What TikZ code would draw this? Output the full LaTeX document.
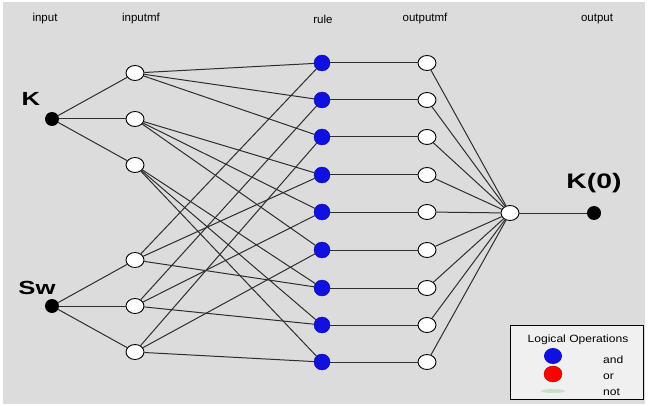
\documentclass[tikz,border=0pt]{standalone}
\usepackage{fontspec}
\setmainfont{Liberation Sans}
\usetikzlibrary{shapes.geometric}
\definecolor{bg}{HTML}{DCDCDC}
\definecolor{edgec}{HTML}{2E2E2E}
\definecolor{ruleblue}{HTML}{1010E0}
\begin{document}
\begin{tikzpicture}[x=1pt,y=-1pt,
  mfnode/.style={ellipse,draw=black,fill=white,line width=0.9pt,minimum width=18pt,minimum height=15pt,inner sep=0pt},
  rulenode/.style={circle,fill=ruleblue,draw=ruleblue!70!black,line width=0.4pt,minimum size=16pt,inner sep=0pt},
  innode/.style={circle,fill=black,minimum size=14pt,inner sep=0pt},
  conn/.style={draw=edgec,line width=1pt},
  toplabel/.style={font=\fontsize{11.5}{13}\selectfont},
  biglabel/.style={font=\fontsize{19}{21}\selectfont\bfseries,xscale=1.35},
  legtext/.style={font=\fontsize{10.5}{12}\selectfont,xscale=1.15}]
\useasboundingbox (0,0) rectangle (650,406);
\fill[white] (0,0) rectangle (650,406);
\fill[bg] (3,2) rectangle (645,404);

% column labels
\node[toplabel] (lin) at (45,19) {input};
\node[toplabel] (lmf) at (141,19) {inputmf};
\node[toplabel] (lrule) at (323,19) {rule};
\node[toplabel] (lomf) at (425,19) {outputmf};
\node[toplabel] (lout) at (597,19) {output};

% inputs
\node[innode] (K) at (52,119) {};
\node[innode] (Sw) at (52,306) {};
\node[biglabel] (Klab) at (31,99) {K};
\node[biglabel] (Swlab) at (37,288) {Sw};

% input mfs
\node[mfnode] (a1) at (135,73) {};
\node[mfnode] (a2) at (135,119) {};
\node[mfnode] (a3) at (135,165) {};
\node[mfnode] (b1) at (135,260) {};
\node[mfnode] (b2) at (135,306) {};
\node[mfnode] (b3) at (135,352) {};

% rules and output mfs
\foreach \i/\y in {1/63,2/100,3/137,4/175,5/212,6/250,7/288,8/325,9/362}{
  \node[rulenode] (r\i) at (322,\y) {};
  \node[mfnode] (o\i) at (427,\y) {};
}

% aggregation and output
\node[mfnode] (agg) at (510,213) {};
\node[innode] (out) at (594,213) {};
\node[font=\fontsize{21}{23}\selectfont\bfseries,xscale=1.35] (outlab) at (594,183) {K(0)};

% connectors
\foreach \m in {a1,a2,a3}{\draw[conn] (K) -- (\m);}
\foreach \m in {b1,b2,b3}{\draw[conn] (Sw) -- (\m);}
\foreach \m/\r in {a1/1,a1/2,a1/3,a2/4,a2/5,a2/6,a3/7,a3/8,a3/9,
                   b1/1,b1/4,b1/7,b2/2,b2/5,b2/8,b3/3,b3/6,b3/9}{
  \draw[conn] (\m) -- (r\r);}
\foreach \i in {1,...,9}{
  \draw[conn] (r\i) -- (o\i);
  \draw[conn] (o\i) -- (agg);}
\draw[conn] (agg) -- (out);

% legend
\node[draw=black,line width=1pt,fill=gray!12,minimum width=133pt,minimum height=74pt,inner sep=0pt] (leg) at (577,362) {};
\node[legtext] (legtitle) at (578,340) {Logical Operations};
\node[ellipse,fill=ruleblue,minimum width=18pt,minimum height=16pt,inner sep=0pt] (legand) at (553,356) {};
\node[ellipse,fill=red,draw=red!70!black,line width=0.4pt,minimum width=18pt,minimum height=16pt,inner sep=0pt] (legor) at (553,374) {};
\node[ellipse,fill=green!50!gray,opacity=0.25,minimum width=24pt,minimum height=4pt,inner sep=0pt] (legnot) at (553,391) {};
\node[legtext,anchor=west] (tand) at (599,360) {and};
\node[legtext,anchor=west] (tor) at (599,377) {or};
\node[legtext,anchor=west] (tnot) at (599,392) {not};
\end{tikzpicture}
\end{document}
